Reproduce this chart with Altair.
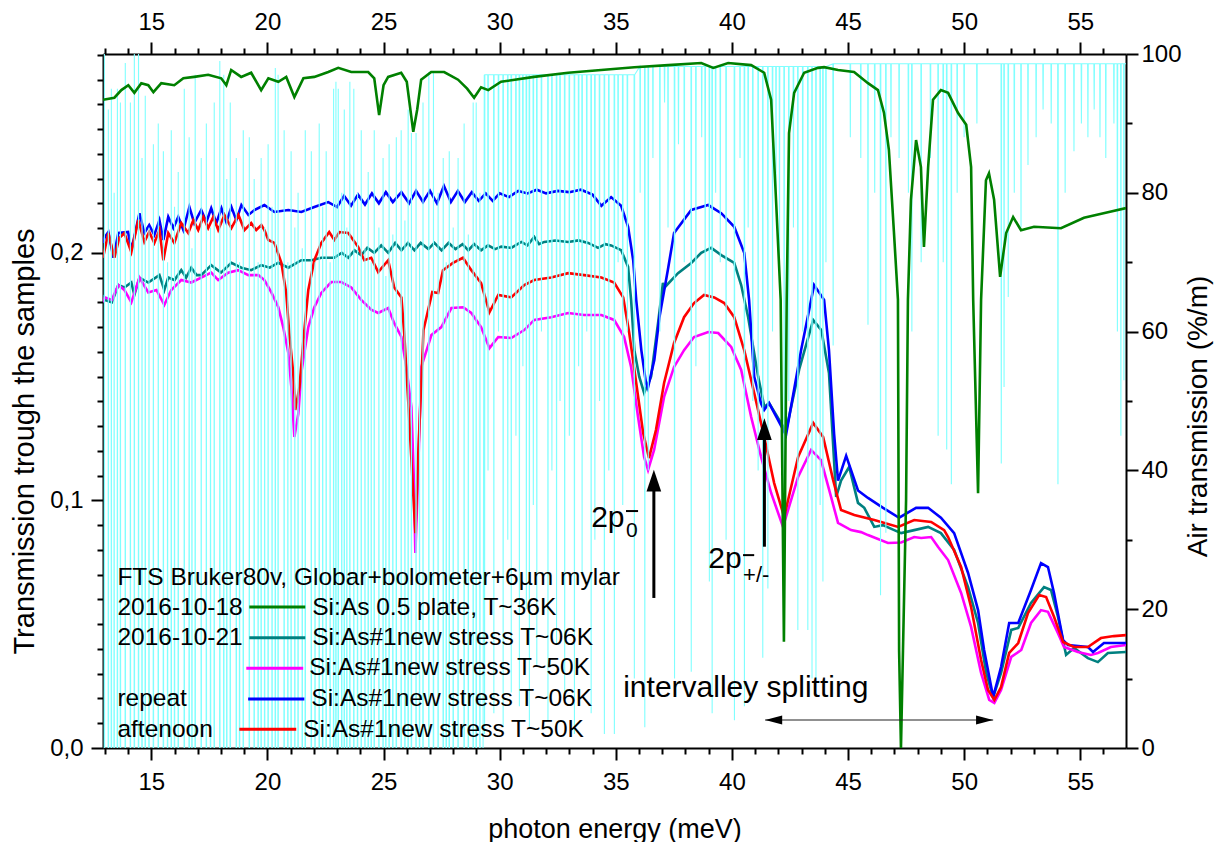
import altair as alt
import pandas as pd

FONT = "Liberation Sans"

# ---------------- data ----------------
blue_e = [12.92, 13.0, 13.15, 13.37, 13.58, 14.0, 14.14, 14.49, 14.7, 14.91, 15.13, 15.35, 15.52, 15.73, 15.95,
          16.16, 16.38, 16.64, 16.85, 17.15, 17.37, 17.58, 17.8, 18.02, 18.23, 18.45, 18.66, 18.88, 19.18, 19.44,
          19.87, 20.3, 20.9, 21.46, 22.02, 22.62, 23.0, 23.3, 23.6, 23.9, 24.2, 24.5, 24.8, 25.1, 25.4, 25.77,
          26.1, 26.4, 26.7, 27.0, 27.3, 27.6, 27.9, 28.2, 28.5, 28.8, 29.1, 29.4, 29.7, 30.0, 30.4, 30.8, 31.2,
          31.6, 32.0, 32.5, 33.0, 33.5, 34.0, 34.38, 34.8, 35.23, 35.53, 35.75, 35.88, 36.1, 36.3, 36.38, 36.66,
          36.88, 37.24, 37.51, 38.25, 38.68, 38.98, 39.54, 40.1, 40.53, 40.74, 40.96, 41.26, 41.39, 41.6, 42.33,
          42.98, 43.54, 43.97, 44.18, 44.4, 44.57, 44.92, 45.43, 45.86, 46.51, 47.2, 47.93, 48.45, 49.0, 49.57,
          50.17, 50.6, 50.86, 51.25, 51.59, 51.94, 52.33, 52.88, 53.31, 53.61, 53.87, 54.26, 54.47, 55.33, 55.55,
          56.02, 56.97]
blue_t = [0.204, 0.2064, 0.2084, 0.198, 0.208, 0.2084, 0.201, 0.216, 0.208, 0.2112, 0.2072, 0.2132, 0.2052, 0.2145,
          0.210, 0.2145, 0.2092, 0.2185, 0.212, 0.2173, 0.2124, 0.218, 0.212, 0.218, 0.2124, 0.2185, 0.2132, 0.2193,
          0.2153, 0.2173, 0.2193, 0.2165, 0.2173, 0.2165, 0.2185, 0.2205, 0.2185, 0.2230, 0.2190, 0.2235, 0.2195,
          0.2240, 0.2200, 0.2245, 0.2205, 0.2245, 0.2200, 0.2250, 0.2205, 0.2250, 0.2200, 0.2270, 0.2205, 0.2250,
          0.2205, 0.2245, 0.2210, 0.2240, 0.2210, 0.2240, 0.2225, 0.2250, 0.2240, 0.2255, 0.2240, 0.2250, 0.2245,
          0.2255, 0.2235, 0.2190, 0.2225, 0.219, 0.2105, 0.197, 0.181, 0.1607, 0.1474, 0.1453, 0.1567, 0.174,
          0.193, 0.208, 0.2173, 0.2185, 0.2193, 0.2160, 0.2105, 0.200, 0.181, 0.150, 0.139, 0.1365, 0.1393, 0.1264,
          0.1607, 0.187, 0.181, 0.1607, 0.127, 0.108, 0.118, 0.104, 0.101, 0.097, 0.093, 0.097, 0.097, 0.093,
          0.0868, 0.0707, 0.0557, 0.0396, 0.0206, 0.0327, 0.0505, 0.0505, 0.0638, 0.0747, 0.0731, 0.0626, 0.0436,
          0.0416, 0.0408, 0.0388, 0.0424, 0.0424]

teal_e = [12.92, 13.0, 13.3, 13.58, 13.84, 14.14, 14.27, 14.49, 14.87, 15.35, 15.56, 15.73, 16.0, 16.29, 16.5,
          16.72, 16.95, 17.15, 17.58, 18.0, 18.45, 18.88, 19.3, 19.74, 20.1, 20.47, 20.9, 21.46, 21.9, 22.32, 22.88,
          23.2, 23.48, 23.75, 24.04, 24.3, 24.6, 24.9, 25.2, 25.5, 25.77, 26.05, 26.33, 26.6, 26.93, 27.19, 27.5,
          27.8, 28.1, 28.4, 28.65, 28.9, 29.2, 29.5, 29.8, 30.07, 30.5, 30.93, 31.2, 31.49, 31.7, 31.92, 32.4,
          32.95, 33.4, 33.81, 34.24, 34.55, 34.8, 35.23, 35.53, 35.66, 35.8, 36.01, 36.22, 36.52, 36.82, 37.03,
          37.1, 37.68, 38.25, 38.68, 39.11, 39.54, 40.1, 40.4, 40.7, 41.13, 41.4, 41.6, 42.33, 42.9, 43.5, 43.85,
          44.18, 44.49, 44.7, 45.05, 45.43, 45.7, 46.13, 46.5, 46.99, 47.29, 47.85, 48.45, 49.0, 49.57, 50.17,
          50.6, 50.95, 51.25, 51.59, 52.03, 52.33, 52.88, 53.44, 53.74, 54.04, 54.39, 54.73, 55.33, 55.76, 56.19,
          56.97]
teal_t = [0.183, 0.181, 0.180, 0.187, 0.186, 0.188, 0.183, 0.190, 0.188, 0.191, 0.185, 0.190, 0.189, 0.193, 0.190,
          0.194, 0.191, 0.191, 0.195, 0.192, 0.196, 0.194, 0.193, 0.195, 0.194, 0.196, 0.194, 0.197, 0.197, 0.198,
          0.198, 0.200, 0.198, 0.201, 0.199, 0.202, 0.200, 0.203, 0.200, 0.204, 0.201, 0.204, 0.201, 0.204, 0.2015,
          0.204, 0.201, 0.204, 0.2015, 0.2035, 0.201, 0.2035, 0.201, 0.203, 0.2015, 0.2025, 0.202, 0.2044, 0.203,
          0.2064, 0.2035, 0.2044, 0.2050, 0.2044, 0.2050, 0.204, 0.202, 0.2035, 0.203, 0.2011, 0.1943, 0.181,
          0.1607, 0.150, 0.1434, 0.150, 0.1716, 0.1878, 0.186, 0.1918, 0.1959, 0.200, 0.202, 0.1991, 0.1959,
          0.187, 0.174, 0.150, 0.1377, 0.1393, 0.128, 0.153, 0.1729, 0.1688, 0.1515, 0.1014, 0.108, 0.1135, 0.099,
          0.097, 0.0893, 0.090, 0.088, 0.0868, 0.088, 0.0893, 0.0868, 0.080, 0.065, 0.0505, 0.0303, 0.0206, 0.0303,
          0.0477, 0.0485, 0.0586, 0.065, 0.0638, 0.053, 0.0376, 0.0404, 0.0363, 0.0347, 0.0384, 0.0388]

magenta_e = [12.92, 13.0, 13.3, 13.58, 13.84, 14.14, 14.49, 14.87, 15.22, 15.56, 15.86, 16.29, 16.72, 17.15, 17.58,
             17.88, 18.31, 18.74, 19.18, 19.61, 19.87, 20.17, 20.47, 20.68, 20.9, 21.03, 21.16, 21.33, 21.46, 21.76,
             22.02, 22.32, 22.75, 23.18, 23.61, 24.04, 24.47, 24.77, 25.2, 25.46, 25.77, 25.98, 26.2, 26.3, 26.37,
             26.45, 26.63, 27.06, 27.49, 27.92, 28.43, 28.78, 29.2, 29.56, 29.94, 30.5, 31.06, 31.49, 32.22, 32.95,
             33.64, 34.38, 34.93, 35.36, 35.66, 35.96, 36.22, 36.39, 36.65, 37.08, 37.51, 37.94, 38.37, 38.98, 39.41,
             39.97, 40.4, 40.83, 41.26, 41.69, 42.2, 42.85, 43.41, 43.84, 44.27, 44.57, 45.13, 45.56, 45.86, 46.72,
             47.29, 47.85, 48.15, 48.58, 48.88, 49.31, 49.87, 50.3, 50.73, 51.08, 51.3, 51.59, 52.03, 52.46, 52.88,
             53.31, 53.61, 54.04, 54.3, 54.9, 55.46, 55.76, 56.32, 56.97]
magenta_t = [0.180, 0.182, 0.181, 0.187, 0.185, 0.180, 0.190, 0.184, 0.185, 0.179, 0.185, 0.189, 0.188, 0.190, 0.192,
             0.189, 0.192, 0.193, 0.191, 0.191, 0.189, 0.184, 0.178, 0.170, 0.1595, 0.1458, 0.1256, 0.135, 0.1515,
             0.170, 0.178, 0.1838, 0.1882, 0.1882, 0.186, 0.181, 0.177, 0.1757, 0.1777, 0.1716, 0.166, 0.1539, 0.1377,
             0.110, 0.0788, 0.100, 0.154, 0.1668, 0.170, 0.1777, 0.178, 0.1757, 0.170, 0.1615, 0.166, 0.1656, 0.1688,
             0.1729, 0.174, 0.1757, 0.1749, 0.1749, 0.1729, 0.166, 0.1539, 0.1337, 0.1175, 0.1123, 0.1204, 0.1418,
             0.1539, 0.1607, 0.166, 0.168, 0.1676, 0.162, 0.1527, 0.1337, 0.1175, 0.103, 0.0893, 0.1095, 0.1204,
             0.1163, 0.1014, 0.0909, 0.088, 0.0872, 0.086, 0.0828, 0.083, 0.0852, 0.0848, 0.0852, 0.0812, 0.0759,
             0.0626, 0.0489, 0.0303, 0.0194, 0.0182, 0.0234, 0.0368, 0.0396, 0.0505, 0.0557, 0.055, 0.0464, 0.0408,
             0.0388, 0.0376, 0.0384, 0.0408, 0.0416]

red_e = [12.92, 13.15, 13.41, 13.62, 13.84, 14.14, 14.44, 14.7, 14.91, 15.13, 15.35, 15.52, 15.73, 15.99, 16.29,
         16.59, 16.81, 17.02, 17.24, 17.45, 17.67, 17.88, 18.15, 18.45, 18.75, 19.01, 19.3, 19.52, 19.74, 19.87,
         20.04, 20.3, 20.6, 20.81, 20.94, 21.11, 21.2, 21.38, 21.55, 21.76, 22.02, 22.32, 22.66, 22.88, 23.1, 23.48,
         23.91, 24.17, 24.47, 24.77, 25.2, 25.46, 25.77, 25.89, 26.06, 26.2, 26.37, 26.5, 26.72, 27.1, 27.35, 27.56,
         27.99, 28.42, 28.78, 29.2, 29.56, 29.94, 30.5, 31.06, 31.49, 32.22, 32.95, 33.64, 34.38, 34.93, 35.32,
         35.58, 35.88, 36.18, 36.43, 36.73, 37.08, 37.51, 37.94, 38.37, 38.8, 39.24, 39.67, 40.1, 40.53, 40.96,
         41.39, 41.82, 42.25, 42.85, 43.5, 43.93, 44.36, 44.7, 45.27, 46.13, 47.16, 47.85, 48.58, 49.14, 49.31,
         49.87, 50.3, 50.73, 51.03, 51.3, 51.59, 51.94, 52.33, 52.75, 53.23, 53.53, 53.87, 54.26, 54.73, 55.33,
         55.89, 56.45, 56.97]
red_t = [0.198, 0.208, 0.198, 0.206, 0.208, 0.2003, 0.2132, 0.2044, 0.2084, 0.204, 0.2092, 0.197, 0.208, 0.204,
         0.212, 0.208, 0.2132, 0.2092, 0.2145, 0.210, 0.2145, 0.2092, 0.2153, 0.210, 0.2153, 0.2092, 0.212, 0.2092,
         0.2112, 0.2092, 0.2052, 0.204, 0.196, 0.1838, 0.1676, 0.1515, 0.1365, 0.1458, 0.1648, 0.185, 0.197, 0.204,
         0.2084, 0.2052, 0.2084, 0.208, 0.2023, 0.197, 0.198, 0.1922, 0.197, 0.186, 0.182, 0.1676, 0.1405, 0.1163,
         0.0868, 0.120, 0.1688, 0.1842, 0.1838, 0.193, 0.1959, 0.198, 0.193, 0.1878, 0.176, 0.183, 0.182, 0.187,
         0.189, 0.190, 0.1918, 0.191, 0.190, 0.188, 0.182, 0.1676, 0.1474, 0.1272, 0.1171, 0.1284, 0.1474, 0.1636,
         0.174, 0.1797, 0.183, 0.182, 0.1797, 0.174, 0.1607, 0.1434, 0.1256, 0.107, 0.0933, 0.1175, 0.1313, 0.1256,
         0.1082, 0.0961, 0.0941, 0.0921, 0.0893, 0.0921, 0.0913, 0.088, 0.0852, 0.0731, 0.0569, 0.0355, 0.0234,
         0.0194, 0.0246, 0.0384, 0.0424, 0.0545, 0.0618, 0.061, 0.053, 0.0428, 0.0408, 0.0408, 0.0444, 0.0452,
         0.0456]

green_e = [12.92, 13.41, 13.71, 14.01, 14.27, 14.57, 14.87, 15.09, 15.43, 15.99, 16.38, 16.85, 17.45, 18.01, 18.23,
           18.44, 18.87, 19.3, 19.73, 20.04, 20.47, 20.81, 21.16, 21.55, 22.02, 22.62, 23.05, 23.61, 24.34, 24.6,
           24.81, 25.0, 25.2, 25.76, 26.0, 26.28, 26.45, 26.62, 27.05, 27.61, 28.21, 28.6, 28.9, 29.2, 29.51, 30.06,
           31.48, 32.95, 34.37, 35.8, 37.26, 38.68, 39.2, 39.84, 40.83, 41.39, 41.69, 41.9, 42.1, 42.24, 42.36,
           42.46, 42.68, 43.11, 43.71, 43.97, 44.57, 45.26, 45.86, 46.29, 46.55, 46.76, 46.98, 47.15, 47.2, 47.28,
           47.5, 47.58, 47.71, 47.93, 48.14, 48.27, 48.45, 48.66, 49.0, 49.31, 49.74, 50.09, 50.3, 50.39, 50.6,
           50.73, 50.94, 51.07, 51.29, 51.55, 51.81, 52.11, 52.45, 53.01, 54.17, 55.16, 56.19, 56.97]
green_a = [93.4, 93.7, 94.8, 95.5, 94.4, 95.8, 95.5, 94.5, 95.8, 95.5, 96.5, 96.7, 97.0, 96.5, 95.5, 97.7, 96.7, 97.3,
           94.8, 96.5, 96.0, 96.7, 93.8, 96.5, 96.7, 97.4, 98.0, 97.4, 97.4, 96.5, 91.2, 95.5, 96.7, 97.3, 96.0,
           88.8, 92.0, 96.3, 97.4, 97.4, 96.3, 95.0, 93.7, 95.2, 94.8, 96.0, 96.7, 97.3, 97.7, 98.1, 98.4, 98.7,
           98.0, 98.7, 98.4, 97.3, 93.4, 79.0, 64.6, 15.3, 64.6, 88.6, 94.4, 97.3, 98.0, 98.1, 97.7, 97.4, 95.8,
           94.8, 91.5, 86.2, 74.2, 64.6, 14.0, 0.0, 35.7, 64.6, 79.0, 87.6, 83.7, 72.2, 83.7, 93.4, 94.8, 94.4,
           91.5, 89.8, 83.7, 64.6, 36.7, 64.6, 81.8, 82.8, 79.0, 67.9, 74.2, 76.5, 74.6, 75.1, 74.9, 76.4, 77.2,
           77.8]

# air transmission: narrow transmission windows (left part) and absorption lines (right part)
air_win_e = [12.98, 13.15, 13.28, 13.4, 13.54, 13.67, 13.88, 14.1, 14.27, 14.45, 14.6, 14.74, 14.9, 15.09, 15.3,
             15.52, 15.7, 15.86, 16.0, 16.16, 16.42, 16.63, 16.75, 16.89, 17.15, 17.37, 17.55, 17.71, 17.95, 18.12,
             18.25, 18.4, 18.66, 18.8, 18.96, 19.22, 19.43, 19.6, 19.73, 19.88, 20.03, 20.2, 20.34, 20.46, 20.72,
             20.88, 21.02, 21.18, 21.32, 21.5, 21.63, 21.89, 22.05, 22.23, 22.38, 22.53, 22.7, 22.85, 22.95, 23.05,
             23.2, 23.31, 23.42, 23.55, 23.72, 23.88, 24.04, 24.2, 24.34, 24.47, 24.6, 24.8, 24.98, 25.1, 25.24,
             25.4, 25.55, 25.76, 25.92, 26.06, 26.2, 26.4, 26.55, 26.7, 26.95, 27.15, 27.35, 27.57, 27.7, 27.83,
             28.0, 28.21, 28.47, 28.65, 28.86, 28.99, 29.15]
air_win_top = [105, 92, 95, 80, 95, 93, 98.7, 93, 105, 105, 85, 94, 75, 87, 90, 86, 70, 89, 78, 83, 95, 88, 72, 97,
               85, 90, 75, 93, 99, 97, 82, 93, 85, 70, 89, 88, 82, 70, 85, 75, 87, 78, 98, 97, 89, 70, 86, 75, 80,
               72, 89, 86, 70, 90, 78, 86, 70, 95, 96, 95, 80, 92, 75, 96, 95, 80, 89, 72, 83, 70, 89, 75, 85, 68,
               87, 74, 88, 89, 76, 92, 88.6, 88.6, 72, 93, 97.4, 97.4, 80, 85, 70, 86, 75, 85, 90, 74, 93, 93, 80]
air_dip_e = [29.35, 29.5, 29.75, 29.95, 30.15, 30.35, 30.5, 30.7, 30.85, 31.0, 31.15, 31.28, 31.45, 31.6, 31.8,
             32.08, 32.25, 32.45, 32.6, 32.8, 33.0, 33.22, 33.4, 33.55, 33.75, 33.94, 34.1, 34.3, 34.51, 34.7,
             34.94, 35.1, 35.3, 35.5, 35.8, 36.05, 36.25, 36.4, 36.6, 36.9, 37.1, 37.25, 37.53, 37.7, 37.95, 38.25,
             38.45, 38.7, 38.85, 39.03, 39.15, 39.3, 39.5, 39.75, 40.11, 40.35, 40.54, 40.7, 40.9, 41.13, 41.33,
             41.55, 41.75, 41.9, 42.05, 42.25, 42.45, 42.65, 42.84, 43.05, 43.27, 43.45, 43.62, 43.8, 43.92, 44.05,
             44.36, 45.1, 45.55, 45.86, 46.15, 46.4, 46.63, 46.85, 47.2, 47.6, 47.75, 48.15, 48.55, 48.88, 49.1,
             49.25, 49.45, 49.7, 50.0, 50.55, 51.6, 51.72, 51.9, 52.16, 52.45, 52.75, 53.1, 53.4, 53.75, 54.04,
             54.35, 54.73, 55.05, 55.33, 55.6, 55.85, 56.1, 56.45, 56.6, 56.75, 56.88]
air_dip_min = [2, 40, 5, 60, 3, 30, 8, 45, 6, 55, 20, 3, 35, 12, 60, 4, 40, 15, 50, 8, 45, 2, 55, 25, 60, 5, 30, 50,
               2, 40, 2, 70, 35, 60, 10, 80, 3, 40, 85, 60, 93, 75, 10, 87, 70, 11, 55, 88, 65, 24, 5, 80, 70, 30,
               4, 85, 6, 75, 50, 40, 13, 23, 60, 80, 70, 20, 50, 75, 17, 60, 17, 10, 10, 35, 24, 70, 58, 88, 85, 61,
               80, 22, 31, 88, 85, 80, 60, 70, 85, 45, 70, 43, 38, 80, 88, 90, 41, 52, 65, 80, 75, 84, 88, 92, 90,
               38, 80, 86, 90, 88, 92, 88, 85, 90, 60, 45, 53]
air_base_from = [29.3, 36.0, 44.2]
air_base_level = [97.0, 98.2, 98.6]

# ---------------- build tables ----------------
def curve(es, vs, name):
    return pd.DataFrame({"E": es, "V": vs, "i": list(range(len(es))), "s": name})

HW = 0.012
air_e, air_a = [], []
for c, top in zip(air_win_e, air_win_top):
    air_e += [c - HW, c, c + HW]
    air_a += [-30, top, -30]
air_e.append(29.27)
air_a.append(-30)
for c, lo in zip(air_dip_e, air_dip_min):
    base = air_base_level[0]
    for f, lv in zip(air_base_from, air_base_level):
        if c >= f:
            base = lv
    air_e += [c - HW, c, c + HW]
    air_a += [base, lo, base]
air_e.append(56.97)
air_a.append(air_base_level[-1])

X_DOM = [12.92, 56.97]
YL_DOM = [0, 0.2803]
YR_DOM = [0, 100]

common_axis = dict(domainColor="black", domainWidth=2, tickColor="black", tickWidth=2, labelColor="black",
                   titleColor="black", grid=False, labelFont=FONT, titleFont=FONT, labelFontSize=24,
                   titleFontWeight="normal", labelOverlap=False, labelFlush=False)

x_bottom = alt.Axis(orient="bottom", values=list(range(13, 57)), title="photon energy (meV)",
                    labelExpr="datum.value % 5 === 0 ? datum.label : ''",
                    tickSize={"condition": {"test": "datum.value % 5 === 0", "value": 12}, "value": 6},
                    labelPadding=10, titlePadding=22, titleFontSize=27, **common_axis)
x_top = alt.Axis(orient="top", values=list(range(13, 57)), title=None,
                 labelExpr="datum.value % 5 === 0 ? datum.label : ''",
                 tickSize={"condition": {"test": "datum.value % 5 === 0", "value": 12}, "value": 6},
                 labelPadding=8, **common_axis)
y_left = alt.Axis(orient="left", values=[i / 100 for i in range(0, 29)], title="Transmission trough the samples",
                  labelExpr="round(datum.value*100) % 10 === 0 ? replace(format(datum.value, '.1f'), '.', ',') : ''",
                  tickSize={"condition": {"test": "round(datum.value*100) % 10 === 0", "value": 12}, "value": 6},
                  labelPadding=8, titlePadding=10, titleFontSize=29, titleY=387, **common_axis)
y_right = alt.Axis(orient="right", values=list(range(0, 101, 10)), title="Air transmission (%/m)",
                   labelExpr="datum.value % 20 === 0 ? datum.label : ''",
                   tickSize={"condition": {"test": "datum.value % 20 === 0", "value": 12}, "value": 6},
                   labelPadding=3, titlePadding=3, titleAngle=270, titleBaseline="top", titleFontSize=28,
                   titleY=362, **common_axis)

xs_l = alt.X("E:Q", scale=alt.Scale(domain=X_DOM, nice=False, zero=False), axis=x_bottom)
ys_l = alt.Y("V:Q", scale=alt.Scale(domain=YL_DOM, nice=False, zero=False), axis=y_left)
xs_r = alt.X("E:Q", scale=alt.Scale(domain=X_DOM, nice=False, zero=False), axis=x_top)
ys_r = alt.Y("V:Q", scale=alt.Scale(domain=YR_DOM, nice=False, zero=False), axis=y_right)
xs_a = alt.X("E:Q", scale=alt.Scale(domain=X_DOM, nice=False, zero=False), axis=None)
ys_a = alt.Y("V:Q", scale=alt.Scale(domain=YL_DOM, nice=False, zero=False), axis=None)


def line(df, color, width, xs, ys):
    return alt.Chart(df).mark_line(color=color, strokeWidth=width, clip=True).encode(
        x=xs, y=ys, order="i:Q")


# annotations (data coordinates of the left axis)
leg_text = pd.DataFrame({
    "E": [13.54, 13.54, 13.54, 13.54, 13.54, 21.93, 21.93, 21.80, 21.89, 21.54],
    "V": [0.0687, 0.0567, 0.0444, 0.0198, 0.0073, 0.0567, 0.0444, 0.0323, 0.0198, 0.0073],
    "t": ["FTS Bruker80v, Globar+bolometer+6\u00b5m mylar", "2016-10-18", "2016-10-21", "repeat", "aftenoon",
          "Si:As 0.5 plate, T~36K", "Si:As#1new stress T~06K", "Si:As#1new stress T~50K",
          "Si:As#1new stress T~06K", "Si:As#1new stress T~50K"]})
leg_lines = pd.DataFrame({
    "E": [19.22, 19.22, 19.09, 19.17, 18.79],
    "E2": [21.63, 21.63, 21.54, 21.59, 21.24],
    "V": [0.0569, 0.0445, 0.0322, 0.0198, 0.0076],
    "c": ["#008000", "#008080", "#FF00FF", "#0000FF", "#FF0000"]})
big_text = pd.DataFrame({
    "E": [33.94, 35.44, 38.98, 40.48, 35.32],
    "V": [0.0893, 0.0852, 0.0727, 0.0670, 0.0206],
    "t": ["2p", "0", "2p", "+/-", "intervalley splitting"],
    "fs": [30, 21, 30, 22, 30]})
bars = pd.DataFrame({"E": [35.44, 40.48], "E2": [35.96, 40.96], "V": [0.0957, 0.0779]})
shafts = pd.DataFrame({"E": [36.64, 41.40], "V": [0.0606, 0.0813], "V2": [0.1085, 0.1290]})
heads_up = pd.DataFrame({"E": [36.64, 41.40], "V": [0.108, 0.1288]})
hshaft = pd.DataFrame({"E": [41.43], "E2": [51.25], "V": [0.0113]})
head_r = pd.DataFrame({"E": [50.88], "V": [0.0113]})
head_l = pd.DataFrame({"E": [41.80], "V": [0.0113]})

left_layers = [
    line(curve(teal_e, teal_t, "teal"), "#008080", 2.6, xs_l, ys_l),
    line(curve(magenta_e, magenta_t, "magenta"), "#FF00FF", 2.6, xs_l, ys_l),
    line(curve(blue_e, blue_t, "blue"), "#0000FF", 2.6, xs_l, ys_l),
    line(curve(red_e, red_t, "red"), "#FF0000", 2.6, xs_l, ys_l),
]

right_layers = [
    line(curve(air_e, air_a, "air"), "#80FFFF", 1.1, xs_r, ys_r),
    line(curve(green_e, green_a, "green"), "#008000", 2.6, xs_r, ys_r),
]

annot_layers = [
    alt.Chart(leg_lines).mark_rule(strokeWidth=3).encode(
        x=xs_a, x2="E2:Q", y=ys_a, color=alt.Color("c:N", scale=None)),
    alt.Chart(leg_text).mark_text(font=FONT, fontSize=24.5, align="left", baseline="middle", color="black").encode(
        x=xs_a, y=ys_a, text="t:N"),
    alt.Chart(big_text).mark_text(font=FONT, align="left", baseline="alphabetic", color="black").encode(
        x=xs_a, y=ys_a, text="t:N", size=alt.Size("fs:Q", scale=None)),
    alt.Chart(bars).mark_rule(strokeWidth=2, color="black").encode(x=xs_a, x2="E2:Q", y=ys_a),
    alt.Chart(shafts).mark_rule(strokeWidth=3, color="black").encode(x=xs_a, y=ys_a, y2="V2:Q"),
    alt.Chart(heads_up).mark_point(shape="M0,-1L0.67,1L-0.67,1Z", filled=True, size=480, color="black",
                                   opacity=1).encode(x=xs_a, y=ys_a),
    alt.Chart(hshaft).mark_rule(strokeWidth=1.2, color="#222222").encode(x=xs_a, x2="E2:Q", y=ys_a),
    alt.Chart(head_r).mark_point(shape="M1,0L-1,-0.53L-1,0.53Z", filled=True, size=289, color="black",
                                 opacity=1).encode(x=xs_a, y=ys_a),
    alt.Chart(head_l).mark_point(shape="M-1,0L1,-0.53L1,0.53Z", filled=True, size=289, color="black",
                                 opacity=1).encode(x=xs_a, y=ys_a),
]

chart = alt.layer(alt.layer(*left_layers), alt.layer(*right_layers), alt.layer(*annot_layers)).resolve_scale(
    y="independent").resolve_axis(x="independent").properties(
    width=1023, height=694, padding={"left": 10, "top": 10, "right": 5, "bottom": 0}
).configure_view(stroke=None).configure(font=FONT)

chart.save("out.html", embed_options={"renderer": "svg", "actions": False})
